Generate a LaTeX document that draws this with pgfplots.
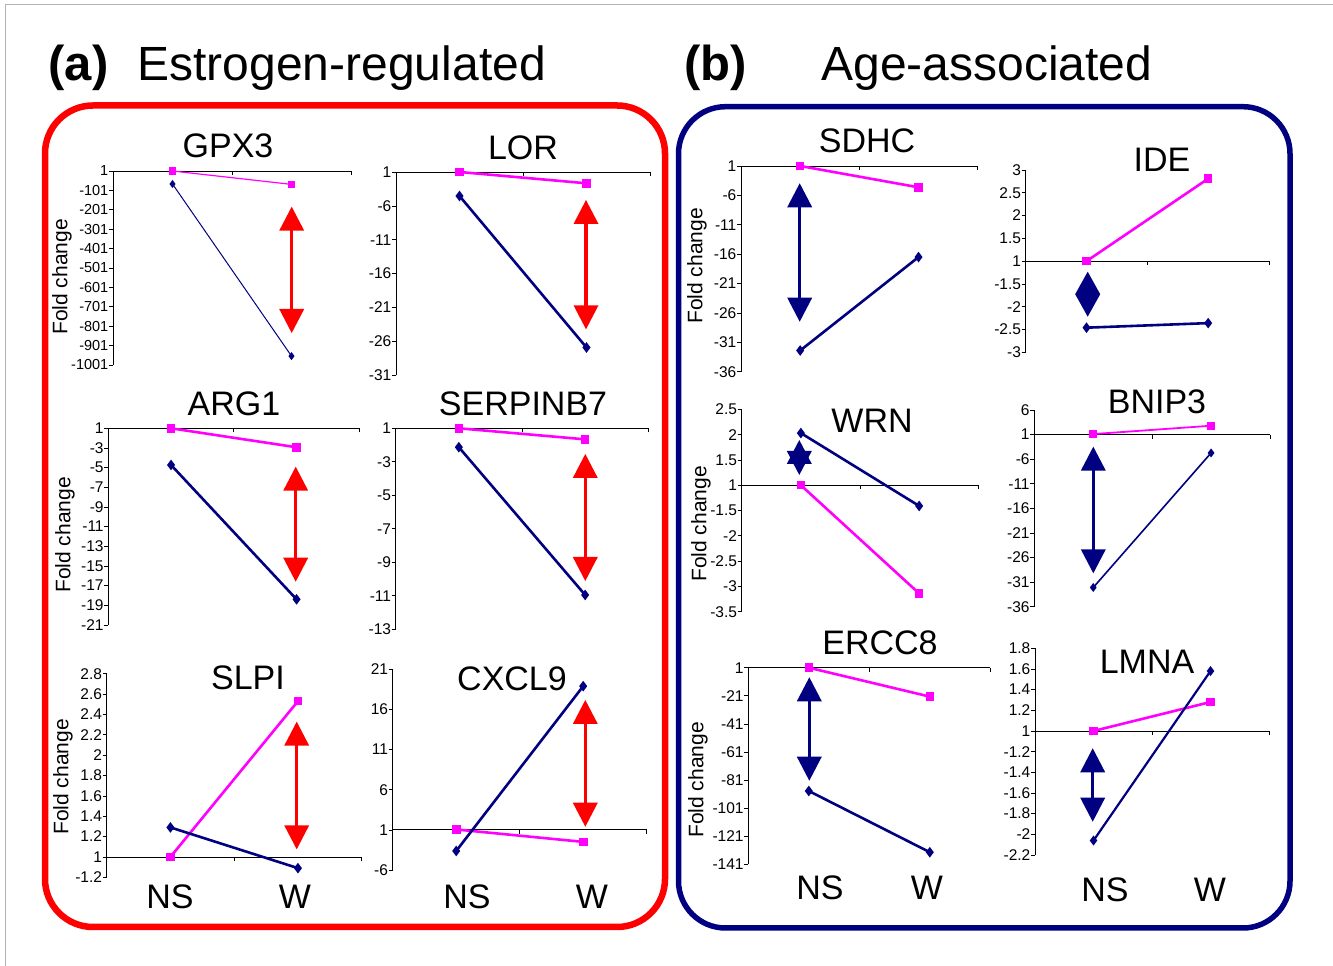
\documentclass[border=0pt]{standalone}
\usepackage{fontspec}
\setmainfont{Liberation Sans}
\usepackage{pgfplots}
\pgfplotsset{compat=1.18}
\definecolor{mag}{RGB}{255,0,255}
\definecolor{nav}{RGB}{0,0,128}
\definecolor{rd}{RGB}{255,0,0}

% y values are stored on the plotted scale: 0 = fold change 1,
% u>0 -> fold change u+1, u<0 -> fold change u-1
\pgfplotsset{
  panel/.style={
    scale only axis, anchor=south west, clip=false,
    xmin=0.5, xmax=2.5,
    axis y line*=left, axis x line*=middle,
    hide obscured y ticks=false, hide obscured x ticks=false,
    xtick={1.5,2.5}, xticklabels={},
    tick align=outside, major tick length=4pt,
    every tick/.style={black, line width=0.7pt},
    axis line style={black, line width=0.8pt},
    yticklabel style={font=\fontsize{15.5}{15.5}\selectfont, inner sep=0.5pt},
  },
  mag/.style={color=mag, line width=2.6pt, mark=square*, mark size=3pt, mark options={solid}},
  nav/.style={color=nav, line width=2.6pt, mark=diamond*, mark size=3.2pt, mark options={solid}},
}

% double arrow in pixel coordinates: [head length]{colour}{x}{top}{bottom}
\newcommand{\dblarrow}[5][24]{%
  \fill[#2] (#3,#4) -- ++(12.5,#1) -- ++(-25,0) -- cycle;
  \fill[#2] (#3,#5) -- ++(12.5,-#1) -- ++(-25,0) -- cycle;
  \draw[#2, line width=3.5pt] ({#3},{#4+#1-1}) -- ({#3},{#5-#1+1});
}

\begin{document}
\begin{tikzpicture}
\useasboundingbox (0,0) rectangle (1333pt,966pt);

% ---------- (a) Estrogen-regulated ----------
\begin{axis}[panel, at={(113pt,601pt)}, width=238pt, height=194pt,
  ymin=-1000, ymax=0, ytick={-1000,-900,...,0},
  yticklabels={-1001,-901,-801,-701,-601,-501,-401,-301,-201,-101,1},
  yticklabel style={font=\fontsize{14.5}{14.5}\selectfont}]
\addplot[mag, line width=1.2pt] coordinates {(1,0) (2,-69)};
\addplot[nav, line width=1pt] coordinates {(1,-67) (2,-954)};
\end{axis}

\begin{axis}[panel, at={(396pt,590.7pt)}, width=254pt, height=203.3pt,
  ymin=-30, ymax=0, ytick={-30,-25,...,0},
  yticklabels={-31,-26,-21,-16,-11,-6,1}]
\addplot[mag] coordinates {(1,0) (2,-1.67)};
\addplot[nav] coordinates {(1,-3.54) (2,-25.9)};
\end{axis}

\begin{axis}[panel, at={(108.3pt,341pt)}, width=251pt, height=196.7pt,
  ymin=-20, ymax=0, ytick={-20,-18,...,0},
  yticklabels={-21,-19,-17,-15,-13,-11,-9,-7,-5,-3,1}]
\addplot[mag] coordinates {(1,0) (2,-1.93)};
\addplot[nav] coordinates {(1,-3.73) (2,-17.39)};
\end{axis}

\begin{axis}[panel, at={(395.7pt,336.7pt)}, width=252.6pt, height=201pt,
  ymin=-12, ymax=0, ytick={-12,-10,...,0},
  yticklabels={-13,-11,-9,-7,-5,-3,1}]
\addplot[mag] coordinates {(1,0) (2,-0.66)};
\addplot[nav] coordinates {(1,-1.13) (2,-9.95)};
\end{axis}

\begin{axis}[panel, at={(106.7pt,88.7pt)}, width=255pt, height=203.6pt,
  ymin=-0.2, ymax=1.8, ytick={-0.2,0,0.2,0.4,0.6,0.8,1,1.2,1.4,1.6,1.8},
  yticklabels={-1.2,1,1.2,1.4,1.6,1.8,2,2.2,2.4,2.6,2.8}]
\addplot[mag] coordinates {(1,0) (2,1.53)};
\addplot[nav] coordinates {(1,0.29) (2,-0.11)};
\end{axis}

\begin{axis}[panel, at={(392.7pt,96pt)}, width=254pt, height=200.7pt,
  ymin=-5, ymax=20, ytick={-5,0,5,10,15,20},
  yticklabels={-6,1,6,11,16,21}]
\addplot[mag] coordinates {(1,0.05) (2,-1.5)};
\addplot[nav] coordinates {(1,-2.63) (2,17.9)};
\end{axis}

% ---------- (b) Age-associated ----------
\begin{axis}[panel, at={(741pt,594.3pt)}, width=236.7pt, height=205.7pt,
  ymin=-35, ymax=0, ytick={-35,-30,...,0},
  yticklabels={-36,-31,-26,-21,-16,-11,-6,1}]
\addplot[mag] coordinates {(1,0) (2,-3.63)};
\addplot[nav] coordinates {(1,-31.4) (2,-15.5)};
\end{axis}

\begin{axis}[panel, at={(1025.7pt,613.7pt)}, width=243.3pt, height=182.3pt,
  ymin=-2, ymax=2, ytick={-2,-1.5,-1,-0.5,0,0.5,1,1.5,2},
  yticklabels={-3,-2.5,-2,-1.5,1,1.5,2,2.5,3}]
\addplot[mag] coordinates {(1,0) (2,1.81)};
\addplot[nav] coordinates {(1,-1.46) (2,-1.36)};
\end{axis}

\begin{axis}[panel, at={(741.7pt,354.3pt)}, width=236.6pt, height=202.4pt,
  ymin=-2.5, ymax=1.5, ytick={-2.5,-2,-1.5,-1,-0.5,0,0.5,1,1.5},
  yticklabels={-3.5,-3,-2.5,-2,-1.5,1,1.5,2,2.5}]
\addplot[mag] coordinates {(1,0) (2,-2.14)};
\addplot[nav] coordinates {(1,1.03) (2,-0.41)};
\end{axis}

\begin{axis}[panel, at={(1034.3pt,359.3pt)}, width=235.7pt, height=196.7pt,
  ymin=-35, ymax=5, ytick={-35,-30,...,5},
  yticklabels={-36,-31,-26,-21,-16,-11,-6,1,6}]
\addplot[mag, line width=1.8pt] coordinates {(1,0.1) (2,1.8)};
\addplot[nav, line width=1.6pt] coordinates {(1,-31.1) (2,-3.73)};
\end{axis}

\begin{axis}[panel, at={(748.3pt,101.7pt)}, width=242pt, height=196.6pt,
  ymin=-140, ymax=0, ytick={-140,-120,...,0},
  yticklabels={-141,-121,-101,-81,-61,-41,-21,1}]
\addplot[mag] coordinates {(1,0) (2,-20.6)};
\addplot[nav] coordinates {(1,-87.8) (2,-131.4)};
\end{axis}

\begin{axis}[panel, at={(1035pt,111pt)}, width=234pt, height=206.7pt,
  ymin=-1.2, ymax=0.8, ytick={-1.2,-1,-0.8,-0.6,-0.4,-0.2,0,0.2,0.4,0.6,0.8},
  yticklabels={-2.2,-2,-1.8,-1.6,-1.4,-1.2,1,1.2,1.4,1.6,1.8}]
\addplot[mag] coordinates {(1,0) (2,0.28)};
\addplot[nav, line width=2.2pt] coordinates {(1,-1.06) (2,0.58)};
\end{axis}

% ---------- annotations, in pixel coordinates ----------
\begin{scope}[x=1pt, y=-1pt, yshift=966pt]
\draw[gray!60, line width=1pt] (5,966) -- (5,5) -- (1333,5);

\draw[rd, line width=6.5pt, rounded corners=48pt] (45,105.5) rectangle (665,927);
\draw[nav, line width=5.5pt, rounded corners=47pt] (678.5,106.7) rectangle (1290,928);

\node[anchor=base west, font=\fontsize{49}{56}\selectfont\bfseries] at (45,81) {(a)};
\node[anchor=base west, font=\fontsize{48}{56}\selectfont] at (134,81) {Estrogen-regulated};
\node[anchor=base west, font=\fontsize{49}{56}\selectfont\bfseries] at (681,81) {(b)};
\node[anchor=base west, font=\fontsize{48}{56}\selectfont] at (818,81) {Age-associated};

\begin{scope}[every node/.style={anchor=base, font=\fontsize{34}{40}\selectfont}]
\node at (228,158) {GPX3};
\node at (523,160) {LOR};
\node at (234,416) {ARG1};
\node at (523,416) {SERPINB7};
\node at (248,690) {SLPI};
\node at (512,690.7) {CXCL9};
\node at (867,153) {SDHC};
\node at (1162,171.7) {IDE};
\node at (872,433) {WRN};
\node at (1157,414) {BNIP3};
\node at (880,655) {ERCC8};
\node at (1147,674) {LMNA};
\node at (170,909) {NS};
\node at (295,909) {W};
\node at (467,909) {NS};
\node at (592,909) {W};
\node at (820,900) {NS};
\node at (927,900) {W};
\node at (1105,902) {NS};
\node at (1210,902) {W};
\end{scope}

\begin{scope}[every node/.style={rotate=90, font=\fontsize{21}{24}\selectfont}]
\node at (62,277) {Fold change};
\node at (65,535) {Fold change};
\node at (63,777) {Fold change};
\node at (697,266) {Fold change};
\node at (701,524) {Fold change};
\node at (698,780) {Fold change};
\end{scope}

\dblarrow{rd}{291.7}{206.7}{333}
\dblarrow{rd}{586}{200}{329.3}
\dblarrow{rd}{295.7}{466.7}{581.7}
\dblarrow{rd}{585.3}{454}{581}
\dblarrow{rd}{296.7}{721.7}{849.3}
\dblarrow{rd}{585.3}{700}{826.7}
\dblarrow{nav}{799.7}{183.3}{321.7}
\dblarrow[22.5]{nav}{1087.7}{271.7}{316.7}
\dblarrow{nav}{799.3}{440}{475}
\dblarrow{nav}{1093.3}{446.7}{573.3}
\dblarrow{nav}{809.3}{677.3}{780.7}
\dblarrow{nav}{1092.7}{748.3}{821.7}
\end{scope}
\end{tikzpicture}
\end{document}
